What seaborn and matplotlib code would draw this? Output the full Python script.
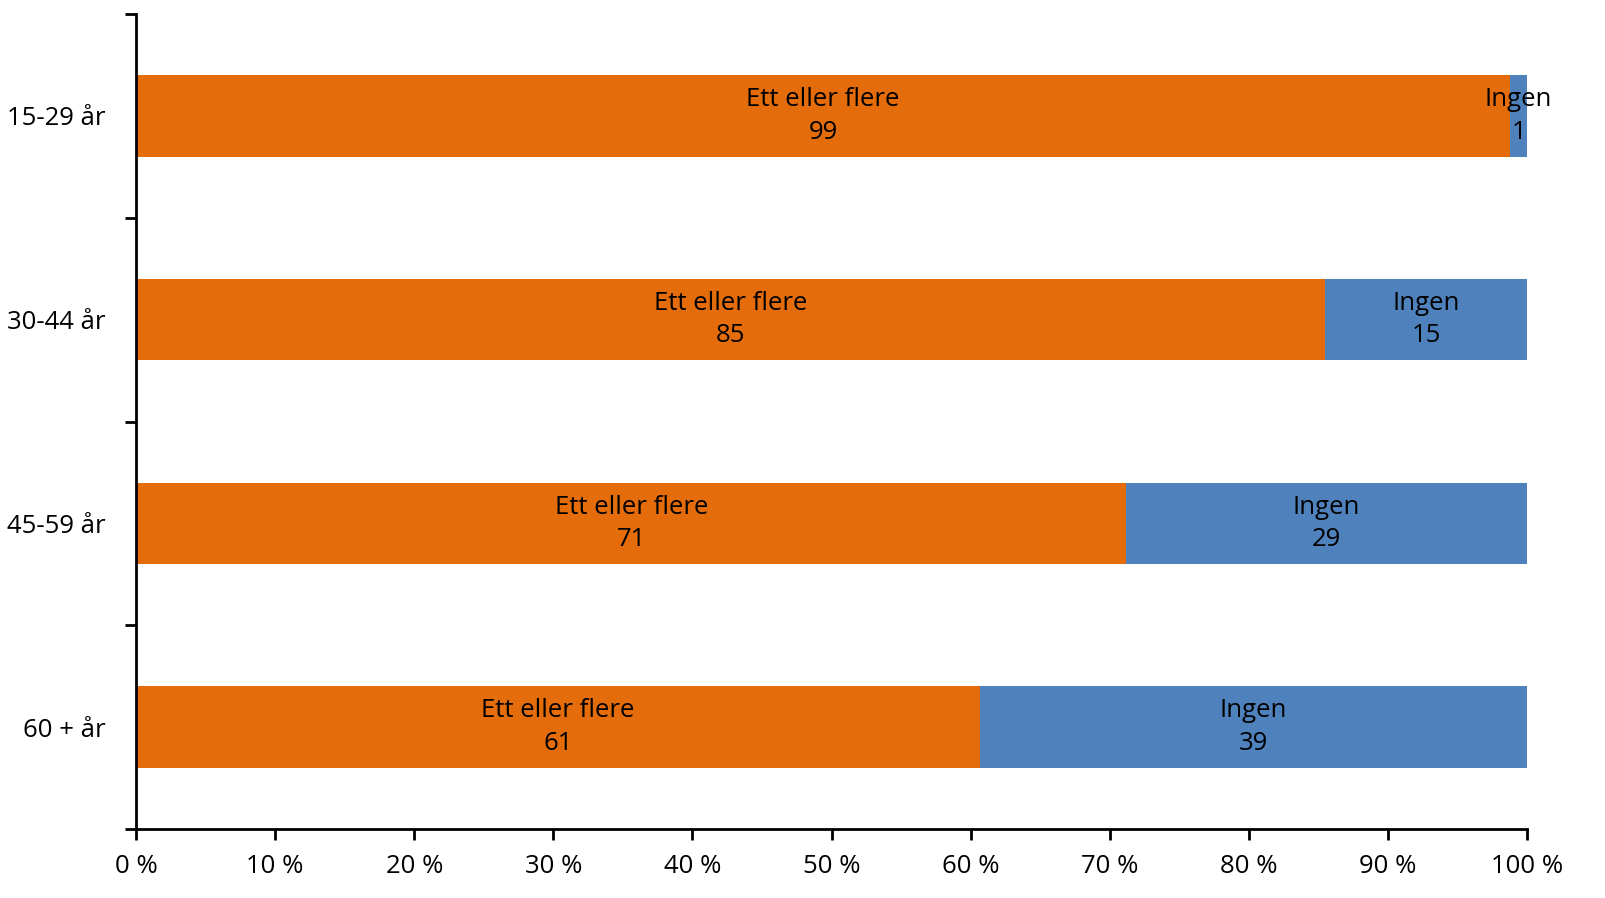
import numpy as np
import pandas as pd
import matplotlib
matplotlib.use('Agg')
import matplotlib.pyplot as plt
import seaborn as sns

groups = ['15-29 år', '30-44 år', '45-59 år', '60 + år']
ett_eller_flere = [98.8, 85.5, 71.2, 60.7]
ingen = [1.2, 14.5, 28.8, 39.3]
labels_ett = [99, 85, 71, 61]
labels_ingen = [1, 15, 29, 39]

df = pd.DataFrame({'gruppe': groups, 'ett': ett_eller_flere, 'ingen': ingen})
df['total'] = df['ett'] + df['ingen']

sns.set_style('white')
plt.rcParams['font.family'] = ['Open Sans', 'DejaVu Sans']
plt.rcParams['text.color'] = 'black'
plt.rcParams['xtick.color'] = 'black'
plt.rcParams['ytick.color'] = 'black'

fig = plt.figure(figsize=(16.06, 8.98), dpi=100)
ax = fig.add_axes([0.0847, 0.0768, 0.8661, 0.9076])

sns.barplot(data=df, y='gruppe', x='total', color='#4F81BD', orient='h',
            width=0.4, saturation=1, linewidth=0, ax=ax)
sns.barplot(data=df, y='gruppe', x='ett', color='#E46C0A', orient='h',
            width=0.4, saturation=1, linewidth=0, ax=ax)

fs = 18.5
for i in range(len(groups)):
    ax.text(df['ett'][i] / 2, i, 'Ett eller flere\n' + str(labels_ett[i]),
            ha='center', va='center', fontsize=fs, linespacing=1.4)
    ax.text(df['ett'][i] + df['ingen'][i] / 2, i, 'Ingen\n' + str(labels_ingen[i]),
            ha='center', va='center', fontsize=fs, linespacing=1.4)

ax.set_xlim(0, 100)
ax.set_ylim(3.5, -0.5)
ax.set_xticks(np.arange(0, 101, 10))
ax.set_xticklabels([f'{v} %' for v in range(0, 101, 10)], fontsize=fs)
ax.set_yticks(range(len(groups)))
ax.set_yticklabels(groups, fontsize=fs)
ax.set_yticks(np.arange(-0.5, 4, 1), minor=True)
ax.tick_params(axis='y', which='major', length=0, pad=22)
ax.tick_params(axis='y', which='minor', left=True, length=8, width=2, color='black')
ax.tick_params(axis='x', which='major', bottom=True, length=8, width=2, color='black', pad=10)
ax.set_xlabel('')
ax.set_ylabel('')

sns.despine(ax=ax, top=True, right=True)
for s in ['left', 'bottom']:
    ax.spines[s].set_color('black')
    ax.spines[s].set_linewidth(2)

fig.savefig('out.png', dpi=100)
